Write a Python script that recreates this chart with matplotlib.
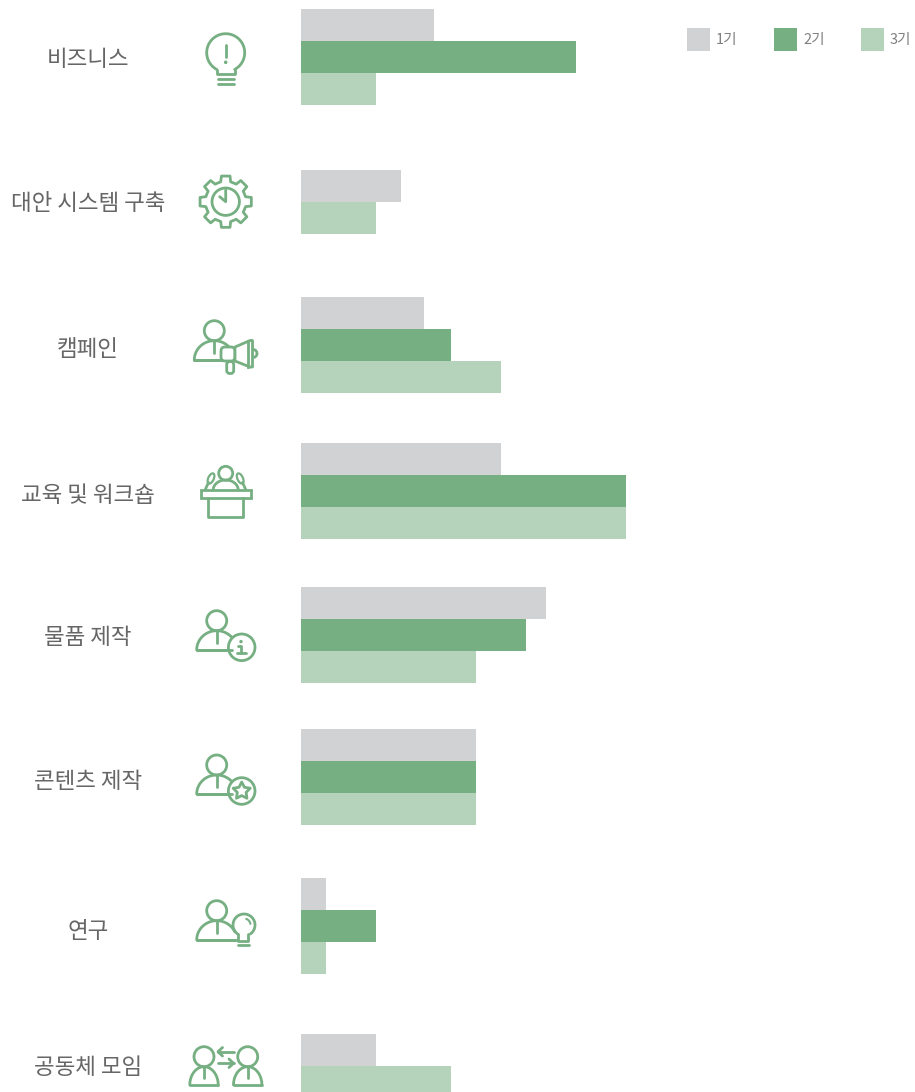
import numpy as np
import matplotlib
matplotlib.use('Agg')
import matplotlib.pyplot as plt
from matplotlib.patches import Circle, Rectangle, Polygon, FancyBboxPatch, Ellipse

plt.rcParams['font.family'] = ['Noto Sans CJK KR', 'DejaVu Sans']

categories = ['비즈니스', '대안 시스템 구축', '캠페인', '교육 및 워크숍', '물품 제작', '콘텐츠 제작', '연구', '공동체 모임']
series_names = ['1기', '2기', '3기']
gen1 = [5.32, 4, 4.92, 8, 9.8, 7, 1, 3]
gen2 = [11, None, 6, 13, 9, 7, 3, None]
gen3 = [3, 3, 8, 13, 7, 7, 1, 6]

colors = ['#D1D2D4', '#76AF82', '#B5D2BA']
ICON = '#76AF82'
TEXT = '#666666'
W, H = 915, 1092
UNIT = 25  # px per value
X0 = 301
BAR_H = 32
centers = [57, 202, 345, 491, 635, 777, 925.5, 1066]
label_y = [60, 204, 349, 496, 638, 782, 931, 1068]

fig = plt.figure(figsize=(W / 100, H / 100), dpi=100)

# bars, value axis scaled so 1 unit = 25 px
ax = fig.add_axes([0, 0, 1, 1])
ax.set_xlim(-X0 / UNIT, (W - X0) / UNIT)
ax.set_ylim(H, 0)
ax.axis('off')
for i, c in enumerate(centers):
    vals = [(gen1[i], colors[0]), (gen2[i], colors[1]), (gen3[i], colors[2])]
    vals = [v for v in vals if v[0] is not None]
    top = c - len(vals) * BAR_H / 2
    for k, (v, col) in enumerate(vals):
        ax.barh(top + (k + 0.5) * BAR_H, v, height=BAR_H, color=col, linewidth=0)

# pixel overlay for labels, icons and legend
px = fig.add_axes([0, 0, 1, 1])
px.set_xlim(0, W)
px.set_ylim(H, 0)
px.axis('off')
px.patch.set_alpha(0)

for name, y in zip(categories, label_y):
    px.text(88, y, name, ha='center', va='center', fontsize=16.2, color=TEXT)

for i, name in enumerate(series_names):
    x = 687 + i * 87
    px.add_patch(Rectangle((x, 28), 23, 23, color=colors[i], lw=0))
    px.text(x + 29, 40, name, ha='left', va='center', fontsize=10.5, color='#808080')

LW = 2.0


def line(xs, ys, lw=LW):
    px.plot(xs, ys, color=ICON, lw=lw, solid_capstyle='round', solid_joinstyle='round')


def circle(cx, cy, r, fill='none', lw=LW):
    px.add_patch(Circle((cx, cy), r, fc=fill, ec=ICON, lw=lw, zorder=3))


def arc(cx, cy, rx, ry, a0, a1, lw=LW):
    t = np.radians(np.linspace(a0, a1, 60))
    line(cx + rx * np.cos(t), cy + ry * np.sin(t), lw)


def person(cx, head_y, base_y, rx=20, a1=360, head_r=10):
    circle(cx, head_y, head_r)
    top = head_y + head_r
    arc(cx, base_y, rx, base_y - top, 180, a1)
    line([cx - rx, cx + rx * np.cos(np.radians(a1))], [base_y, base_y])
    line([cx, cx], [top, base_y - 7])


# idea bulb
arc(225.7, 52.7, 19, 19, 118, 422)
line([216.8, 216.8, 234.6, 234.6], [69.5, 73.5, 73.5, 69.5])
line([217.7, 233.7], [79.3, 79.3])
line([217.7, 233.7], [84.3, 84.3])
line([225.7, 225.7], [45, 57])
px.add_patch(Circle((225.7, 62.3), 1.8, color=ICON, lw=0))

# gear with clock
gx, gy = 225.7, 201.7
pts = []
for k in range(8):
    a = np.radians(k * 45 - 90)
    for ang, r in [(-14, 20.5), (-9.5, 26), (9.5, 26), (14, 20.5)]:
        t = a + np.radians(ang)
        pts.append((gx + r * np.cos(t), gy + r * np.sin(t)))
px.add_patch(Polygon(pts, closed=True, fc='none', ec=ICON, lw=LW, joinstyle='round'))
circle(gx, gy, 13.7)
line([gx, gx, gx - 6], [190, gy, gy - 5])

# campaign person with megaphone
person(214.3, 330.7, 360, rx=20, a1=325)
line([194.3, 222], [360, 360])
px.add_patch(FancyBboxPatch((221, 347), 14, 14, boxstyle='round,pad=0,rounding_size=4',
                            fc='white', ec=ICON, lw=LW, zorder=4))
px.add_patch(Polygon([(235, 347), (250, 340.5), (252.5, 340.5), (252.5, 367), (250, 367), (235, 361)],
                     closed=True, fc='white', ec=ICON, lw=LW, joinstyle='round', zorder=4))
px.plot([248.3, 248.3], [341, 367], color=ICON, lw=LW, zorder=5)
arc(253, 353.5, 4, 4, -80, 80)
px.add_patch(FancyBboxPatch((226.7, 361.5), 7, 12, boxstyle='round,pad=0,rounding_size=3',
                            fc='white', ec=ICON, lw=LW, zorder=3))

# lecture podium
circle(225.7, 473.3, 7)
arc(225.7, 490, 12.5, 10, 180, 360)
px.add_patch(Rectangle((200.5, 490), 50.5, 8.3, fc='white', ec=ICON, lw=LW))
line([208.3, 208.3, 243.3, 243.3], [498.3, 516.7, 516.7, 498.3])
line([205.5, 208.5], [489, 482.5])
line([245.5, 242.5], [489, 482.5])
px.add_patch(Ellipse((211, 478.5), 5.5, 11, angle=25, fc='none', ec=ICON, lw=1.6))
px.add_patch(Ellipse((240.2, 478.5), 5.5, 11, angle=-25, fc='none', ec=ICON, lw=1.6))

# person + info badge
person(216.7, 620.7, 650, rx=20, a1=320)
line([196.7, 228], [650, 650])
circle(241.7, 647.3, 13.3)
px.add_patch(Circle((241, 641.6), 1.7, color=ICON, lw=0))
line([237.5, 241, 241], [646, 646, 653])
line([237, 245.5], [653, 653])

# person + star badge
person(216.7, 765, 794, rx=20, a1=320)
line([196.7, 228], [794, 794])
circle(241.7, 791, 13.3)
star = []
for k in range(10):
    r = 9 if k % 2 == 0 else 4.6
    t = np.radians(-90 + k * 36)
    star.append((241.7 + r * np.cos(t), 791 + r * np.sin(t)))
px.add_patch(Polygon(star, closed=True, fc='none', ec=ICON, lw=LW, joinstyle='round'))

# person + light bulb
person(216.7, 910.7, 940, rx=20, a1=335)
line([196.7, 236.7], [940, 940])
arc(244, 925, 11, 11, 125, 415)
line([238.3, 238.3, 248.3, 248.3], [934, 941, 941, 934])
line([238, 248.5], [944.5, 944.5])
arc(244, 925, 6.5, 6.5, -70, -10, lw=1.5)

# two people exchanging
for cx in (204, 247.7):
    person(cx, 1056.7, 1085, rx=14.2)
line([234, 218], [1051.7, 1051.7])
line([222.5, 218, 222.5], [1047.5, 1051.7, 1056])
line([217.5, 233.5], [1063.3, 1063.3])
line([229, 233.5, 229], [1059, 1063.3, 1067.5])

fig.savefig('out.png', dpi=100)
